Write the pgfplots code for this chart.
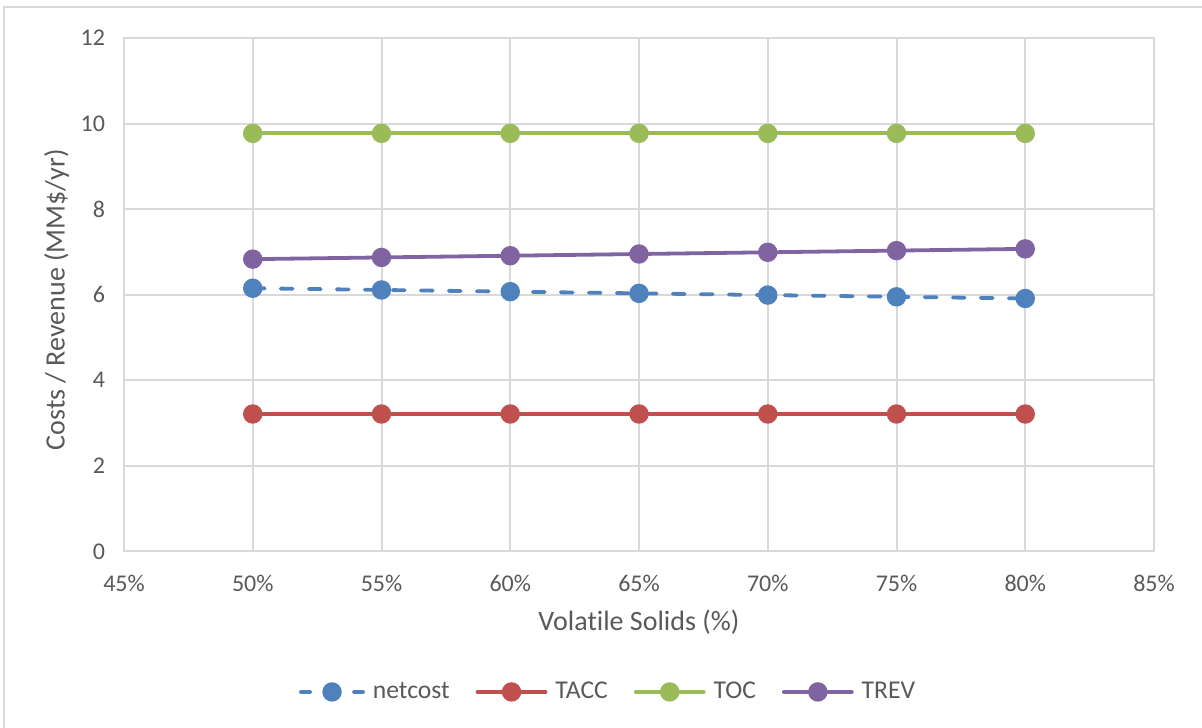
\documentclass[border=0pt]{standalone}
\usepackage{pgfplots}
\pgfplotsset{compat=1.18}
\usepackage{fontspec}
\setmainfont{Carlito}[Ligatures=NoCommon]

\definecolor{gridgray}{HTML}{D9D9D9}
\definecolor{textgray}{HTML}{595959}
\definecolor{cBlue}{HTML}{4F81BD}
\definecolor{cRed}{HTML}{C0504D}
\definecolor{cGreen}{HTML}{9BBB59}
\definecolor{cPurple}{HTML}{8064A2}

% legend sample for a dashed series: short dash, marker, short dash
\pgfplotsset{dashlegend/.style={legend image code/.code={
    \draw[##1, solid] (1.5bp,0bp) -- (6bp,0bp);
    \draw[##1, solid] (28bp,0bp) -- (32.5bp,0bp);
    \draw[##1, only marks] plot coordinates {(17bp,0bp)};
  }}}

\begin{document}
\begin{tikzpicture}
% page frame: 1202 x 728 units of 0.5bp, plot area lower-left at the origin
\useasboundingbox (-62bp,-88.35bp) rectangle (539bp,275.65bp);
\draw[gridgray, line width=1bp] (-60bp,-88.35bp) -- (-60bp,271.9bp) -- (539bp,271.9bp);
\begin{axis}[
  at={(0,0)}, anchor=south west,
  scale only axis,
  width=515bp, height=256.65bp,
  xmin=45, xmax=85, ymin=0, ymax=12,
  xtick={45,50,...,85}, ytick={0,2,...,12},
  xticklabel={\pgfmathprintnumber{\tick}\%},
  /pgf/number format/assume math mode=true,
  major tick length=0pt,
  axis line style={gridgray, line width=1bp},
  grid=major,
  major grid style={gridgray, line width=1bp},
  tick label style={textgray, font=\fontsize{12bp}{14bp}\selectfont},
  xticklabel style={yshift=-8.5bp},
  yticklabel style={xshift=-6bp},
  label style={textgray, font=\fontsize{14bp}{16bp}\selectfont},
  xlabel={Volatile Solids (\%)},
  ylabel={Costs / Revenue (MM\$/yr)},
  xlabel style={at={(rel axis cs:0.5,-0.138)}, anchor=center},
  ylabel style={at={(rel axis cs:-0.0655,0.49)}, anchor=center},
  legend columns=4,
  legend style={at={(rel axis cs:0.471,-0.274)}, anchor=center, draw=none,
    fill=none, text=textgray, font=\fontsize{12.8bp}{15bp}\selectfont,
    /tikz/every odd column/.append style={column sep=2bp},
    /tikz/every even column/.append style={column sep=11bp}},
  legend image code/.code={
    \draw[#1, mark repeat=2, mark phase=2] plot coordinates {(0bp,0bp) (17bp,0bp) (34bp,0bp)};
  },
  every axis plot/.append style={line width=1.9bp, mark=*, mark size=3.9bp,
    mark options={solid}, line cap=round},
]
\addplot[cBlue, dash pattern=on 6bp off 8bp, dashlegend] coordinates {
  (50,6.15) (55,6.11) (60,6.07) (65,6.03) (70,5.99) (75,5.95) (80,5.91)};
\addlegendentry{netcost}
\addplot[cRed] coordinates {
  (50,3.21) (55,3.21) (60,3.21) (65,3.21) (70,3.21) (75,3.21) (80,3.21)};
\addlegendentry{TACC}
\addplot[cGreen] coordinates {
  (50,9.77) (55,9.77) (60,9.77) (65,9.77) (70,9.77) (75,9.77) (80,9.77)};
\addlegendentry{TOC}
\addplot[cPurple] coordinates {
  (50,6.83) (55,6.87) (60,6.91) (65,6.95) (70,6.99) (75,7.03) (80,7.07)};
\addlegendentry{TREV}
\end{axis}
\end{tikzpicture}
\end{document}
